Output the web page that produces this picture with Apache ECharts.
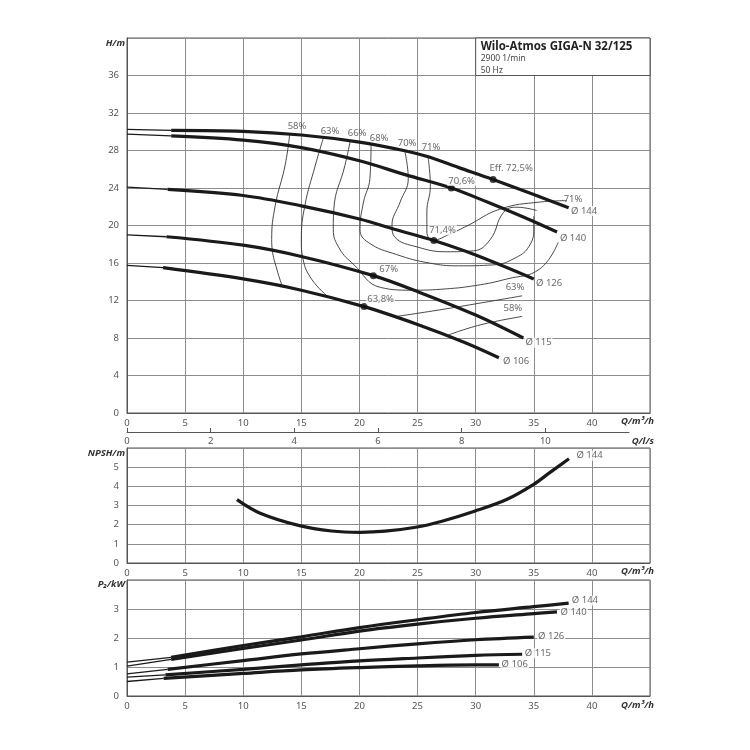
<!DOCTYPE html>
<html><head><meta charset="utf-8">
<script src="https://cdn.jsdelivr.net/npm/echarts@6.0.0/dist/echarts.min.js"></script>
<style>html,body{margin:0;padding:0;background:#fff}#c{width:750px;height:750px}</style>
</head><body><div id="c"></div>
<script>
// ---- Q-H curves (Q in m3/h, H in m) ----
const H144 = [[0,30.25],[3.8,30.15],[10,30.05],[15,29.65],[20,28.9],[24,27.95],[26,27.3],[28.5,26.2],[31.5,24.9],[35,23.3],[38,21.9]];
const H140 = [[0,29.75],[3.8,29.55],[10,29.1],[15,28.3],[20,26.9],[24,25.4],[27.9,24.0],[31,22.5],[34,20.95],[37,19.3]];
const H126 = [[0,24.1],[3.5,23.85],[10,23.2],[15,22.1],[20,20.7],[23,19.6],[26.4,18.4],[30,16.85],[35,14.3]];
const H115 = [[0,19.0],[3.4,18.8],[10,17.9],[15,16.7],[21.2,14.65],[25,12.95],[30,10.45],[34.1,8.0]];
const H106 = [[0,15.75],[3.1,15.5],[10,14.3],[15,13.1],[20.4,11.35],[25,9.45],[29,7.55],[32,5.9]];
// ---- iso-efficiency lines ----
const eff58L = [[14.0,29.75],[13.6,26.4],[12.75,22.1],[12.45,18.5],[12.5,17.4],[12.9,15.3],[13.35,13.55]];
const eff58R = [[27.6,8.3],[30.4,9.4],[34.0,10.3]];
const eff63L = [[16.9,29.35],[16.2,26.4],[15.3,22.1],[15.0,18.5],[15.15,16.4],[15.9,14.25],[17.3,12.4]];
const eff63R = [[23.2,10.3],[26.9,11.0],[30.5,11.75],[34.0,12.5]];
const eff66 = [[19.2,28.95],[18.75,26.4],[17.8,21.8],[17.75,19.6],[18.3,17.5],[19.5,15.85],[21.8,13.4],[24.5,13.1],[27,13.2],[30,13.6],[32.7,14.3],[35.5,15.35],[37.1,18.2]];
const eff68 = [[21.0,28.6],[20.9,25.0],[20.35,22.5],[20.05,19.6],[20.75,18.2],[23.2,16.9],[26,16.0],[28.5,15.7],[31.5,15.8],[33.5,16.6],[34.6,17.8],[35.0,19.6],[35.0,21.0]];
const eff70 = [[23.9,27.95],[24.2,25.0],[23.5,22.5],[22.8,20.0],[23.05,18.75],[25.0,17.7],[27.5,17.2],[29.8,17.3],[31.25,18.5],[32.4,21.4],[33.55,21.95],[35.25,21.6]];
const eff71 = [[25.9,27.35],[26.1,24.2],[25.8,21.45],[25.8,19.3],[26.35,18.45],[27.8,19.1],[29.25,19.95],[32.1,21.75],[35.5,22.5],[37.85,22.65]];
// ---- best efficiency points ----
const bepPoints = [[31.5,24.9],[27.9,24.0],[26.4,18.4],[21.2,14.65],[20.4,11.35]];
// ---- text labels in data coordinates [Q, H, text] ----
const isoLabels = [
  [14.63,30.6,'58%'],[17.47,30.1,'63%'],[19.8,29.8,'66%'],[21.69,29.35,'68%'],[24.1,28.8,'70%'],[26.16,28.3,'71%'],
  [38.38,22.83,'71%'],[33.39,13.4,'63%'],[33.2,11.15,'58%']
];
const bepLabels = [[33.05,26.05,'Eff. 72,5%'],[28.79,24.76,'70,6%'],[27.15,19.5,'71,4%'],[22.52,15.33,'67%'],[21.82,12.11,'63,8%']];
const hCurveLabels = [[39.33,21.54,'Ø 144'],[38.38,18.65,'Ø 140'],[36.32,13.83,'Ø 126'],[35.41,7.5,'Ø 115'],[33.48,5.47,'Ø 106']];
// ---- NPSH (m) ----
const NPSH144 = [[9.46,3.31],[11.46,2.6],[14.84,1.95],[17.6,1.67],[20.06,1.6],[22.2,1.66],[24.98,1.88],[27.1,2.18],[29.9,2.7],[32.66,3.31],[34.96,4.09],[36.34,4.7],[38.03,5.44]];
const npshLabels = [[39.8,5.6,'Ø 144']];
// ---- P2 (kW) ----
const P144 = [[0,1.17],[3.8,1.33],[10,1.74],[15,2.04],[20,2.36],[25,2.63],[30,2.88],[35,3.08],[38,3.2]];
const P140 = [[0,1.03],[3.8,1.26],[10,1.64],[15,1.93],[20,2.24],[25,2.48],[30,2.68],[35,2.84],[37,2.9]];
const P126 = [[0,0.76],[3.5,0.92],[10,1.22],[15,1.45],[20,1.63],[25,1.8],[30,1.94],[35,2.03]];
const P115 = [[0,0.65],[3.3,0.73],[10,0.92],[15,1.07],[20,1.21],[25,1.31],[30,1.4],[34,1.44]];
const P106 = [[0,0.5],[3.15,0.61],[10,0.78],[15,0.9],[20,0.98],[25,1.04],[30,1.07],[32,1.07]];
const pLabels = [[39.4,3.29,'Ø 144'],[38.43,2.9,'Ø 140'],[36.5,2.05,'Ø 126'],[35.36,1.48,'Ø 115'],[33.36,1.1,'Ø 106']];
// ---- axes ----
const qMax = 45, qStep = 5;
const hMax = 40, hStep = 4;
const nMax = 6, nStep = 1;
const pMax = 4, pStep = 1;
const lsMax = 12, lsStep = 2;

const FONT = 'Noto Sans';
const chart = echarts.init(document.getElementById('c'), null, {renderer:'canvas'});

function xAx(gi){
  return {type:'value', gridIndex:gi, min:0, max:qMax, interval:qStep,
    axisLine:{show:true, onZero:false, lineStyle:{color:'#555', width:1}},
    axisTick:{show:false},
    axisLabel:{color:'#555', fontSize:9.5, fontFamily:FONT, margin:5, showMaxLabel:false},
    splitLine:{show:true, lineStyle:{color:'#8c8c8c', width:1}}};
}
function yAx(gi, max, step){
  return {type:'value', gridIndex:gi, min:0, max:max, interval:step,
    axisLine:{show:true, onZero:false, lineStyle:{color:'#555', width:1}},
    axisTick:{show:false},
    axisLabel:{color:'#555', fontSize:9.5, fontFamily:FONT, margin:8, showMaxLabel:false},
    splitLine:{show:true, lineStyle:{color:'#8c8c8c', width:1}}};
}
function line(data, ai, w, extra){
  return Object.assign({type:'line', xAxisIndex:ai, yAxisIndex:ai, data:data, smooth:0.35,
    symbol:'none', silent:true, lineStyle:{color:'#1a1a1a', width:w}, z:3}, extra||{});
}
function pumpCurve(arr, ai){
  return [line(arr.slice(0,2), ai, 1.3), line(arr.slice(1), ai, 3.2)];
}
function iso(arr){ return line(arr, 0, 0.9, {smooth:0.45, lineStyle:{color:'#333', width:0.9}, z:2}); }
function labels(arr, ai, bg){
  return {type:'scatter', xAxisIndex:ai, yAxisIndex:ai, symbolSize:0, silent:true, z:6,
    data:arr.map(d=>({value:[d[0],d[1]], name:d[2]})),
    label:{show:true, position:'inside', formatter:p=>p.name, color:'#444', fontSize:9.5, fontFamily:FONT,
      backgroundColor:bg ? '#fff' : 'transparent', padding:[0,1]}};
}

const series = [];
series.push(...pumpCurve(H144,0), ...pumpCurve(H140,0), ...pumpCurve(H126,0), ...pumpCurve(H115,0), ...pumpCurve(H106,0));
[eff58L,eff58R,eff63L,eff63R,eff66,eff68,eff70,eff71].forEach(a=>series.push(iso(a)));
series.push({type:'scatter', xAxisIndex:0, yAxisIndex:0, data:bepPoints, symbolSize:7, itemStyle:{color:'#111'}, silent:true, z:5});
series.push(labels(isoLabels,0,false));
series.push(labels(bepLabels,0,true));
series.push(labels(hCurveLabels,0,true));
// title box
series.push({type:'line', xAxisIndex:0, yAxisIndex:0, data:[], silent:true, z:4,
  markArea:{silent:true, itemStyle:{color:'#fff', borderColor:'#555', borderWidth:1},
    data:[[{coord:[30,36]},{coord:[qMax,hMax]}]]}});
series.push(line(NPSH144, 1, 3.2));
series.push(labels(npshLabels,1,true));
series.push(...pumpCurve(P144,2), ...pumpCurve(P140,2), ...pumpCurve(P126,2), ...pumpCurve(P115,2), ...pumpCurve(P106,2));
series.push(labels(pLabels,2,true));

chart.setOption({
  animation:false,
  backgroundColor:'#fff',
  grid:[
    {left:127, top:38, width:523, height:375, show:true, borderColor:'#555', borderWidth:1},
    {left:127, top:448, width:523, height:115, show:true, borderColor:'#555', borderWidth:1},
    {left:127, top:580, width:523, height:116, show:true, borderColor:'#555', borderWidth:1},
    {left:127, top:431, width:502, height:1, show:false}
  ],
  xAxis:[xAx(0), xAx(1), xAx(2),
    {type:'value', gridIndex:3, min:0, max:lsMax, interval:lsStep,
      axisLine:{show:true, onZero:false, lineStyle:{color:'#555', width:1}},
      axisTick:{show:true, inside:true, length:4, lineStyle:{color:'#555'}},
      axisLabel:{color:'#555', fontSize:9.5, fontFamily:FONT, margin:4, showMaxLabel:false},
      splitLine:{show:false}}],
  yAxis:[yAx(0,hMax,hStep), yAx(1,nMax,nStep), yAx(2,pMax,pStep),
    {type:'value', gridIndex:3, show:false, min:0, max:1}],
  series:series
});

// text blocks (layout), positioned from the axes
const tl = chart.convertToPixel({gridIndex:0}, [30, hMax]);
const axTxt = {fontFamily:FONT, fontSize:9.5, fontWeight:'bold', fontStyle:'italic', fill:'#333'};
function txt(x,y,s,align,style){ return {type:'text', x:x, y:y, z:50, style:Object.assign({text:s, textAlign:align, textVerticalAlign:'middle'}, axTxt, style||{})}; }
chart.setOption({graphic:[
  txt(tl[0]+5, tl[1]+9, 'Wilo-Atmos GIGA-N 32/125', 'left', {fontSize:11.5, fontStyle:'normal', fill:'#222'}),
  txt(tl[0]+5, tl[1]+21, '2900 1/min', 'left', {fontSize:8.5, fontStyle:'normal', fontWeight:'normal', fill:'#444'}),
  txt(tl[0]+5, tl[1]+33, '50 Hz', 'left', {fontSize:8.5, fontStyle:'normal', fontWeight:'normal', fill:'#444'}),
  txt(125, 43, 'H/m', 'right'),
  txt(125, 453, 'NPSH/m', 'right'),
  txt(125, 584, 'P₂/kW', 'right'),
  txt(654, 421, 'Q/m³/h', 'right'),
  txt(654, 441, 'Q/l/s', 'right'),
  txt(654, 571, 'Q/m³/h', 'right'),
  txt(654, 705, 'Q/m³/h', 'right')
]});
</script></body></html>
